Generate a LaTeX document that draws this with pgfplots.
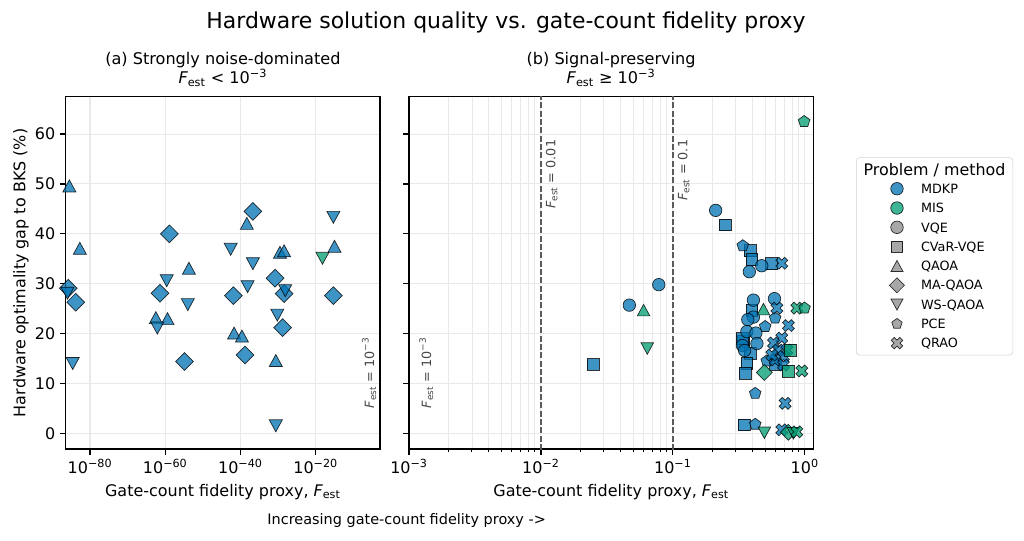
\documentclass[border=0pt]{standalone}
\usepackage{fontspec}
\setmainfont{DejaVu Sans}[ItalicFont={DejaVu Sans Oblique},BoldFont={DejaVu Sans Bold},BoldItalicFont={DejaVu Sans Bold Oblique}]
\usepackage{pgfplots}
\pgfplotsset{compat=1.18}
\usetikzlibrary{plotmarks}

\definecolor{cblue}{HTML}{0173B2}
\definecolor{cgreen}{HTML}{029E73}
\definecolor{cgray}{HTML}{8C8C8C}
\definecolor{gridc}{HTML}{E9E9E9}
\definecolor{dashc}{HTML}{5A5A5A}

\pgfdeclareplotmark{tup}{%
 \pgfpathmoveto{\pgfqpoint{0pt}{0.92\pgfplotmarksize}}%
 \pgfpathlineto{\pgfqpoint{\pgfplotmarksize}{-0.92\pgfplotmarksize}}%
 \pgfpathlineto{\pgfqpoint{-\pgfplotmarksize}{-0.92\pgfplotmarksize}}%
 \pgfpathclose\pgfusepathqfillstroke}
\pgfdeclareplotmark{tdn}{%
 \pgfpathmoveto{\pgfqpoint{0pt}{-0.92\pgfplotmarksize}}%
 \pgfpathlineto{\pgfqpoint{\pgfplotmarksize}{0.92\pgfplotmarksize}}%
 \pgfpathlineto{\pgfqpoint{-\pgfplotmarksize}{0.92\pgfplotmarksize}}%
 \pgfpathclose\pgfusepathqfillstroke}
\pgfdeclareplotmark{dia}{%
 \pgfpathmoveto{\pgfqpoint{0pt}{\pgfplotmarksize}}%
 \pgfpathlineto{\pgfqpoint{\pgfplotmarksize}{0pt}}%
 \pgfpathlineto{\pgfqpoint{0pt}{-\pgfplotmarksize}}%
 \pgfpathlineto{\pgfqpoint{-\pgfplotmarksize}{0pt}}%
 \pgfpathclose\pgfusepathqfillstroke}
\pgfdeclareplotmark{xf}{%
 \pgfpathmoveto{\pgfqpoint{0pt}{0.495\pgfplotmarksize}}%
 \pgfpathlineto{\pgfqpoint{0.460\pgfplotmarksize}{0.955\pgfplotmarksize}}%
 \pgfpathlineto{\pgfqpoint{0.955\pgfplotmarksize}{0.460\pgfplotmarksize}}%
 \pgfpathlineto{\pgfqpoint{0.495\pgfplotmarksize}{0pt}}%
 \pgfpathlineto{\pgfqpoint{0.955\pgfplotmarksize}{-0.460\pgfplotmarksize}}%
 \pgfpathlineto{\pgfqpoint{0.460\pgfplotmarksize}{-0.955\pgfplotmarksize}}%
 \pgfpathlineto{\pgfqpoint{0pt}{-0.495\pgfplotmarksize}}%
 \pgfpathlineto{\pgfqpoint{-0.460\pgfplotmarksize}{-0.955\pgfplotmarksize}}%
 \pgfpathlineto{\pgfqpoint{-0.955\pgfplotmarksize}{-0.460\pgfplotmarksize}}%
 \pgfpathlineto{\pgfqpoint{-0.495\pgfplotmarksize}{0pt}}%
 \pgfpathlineto{\pgfqpoint{-0.955\pgfplotmarksize}{0.460\pgfplotmarksize}}%
 \pgfpathlineto{\pgfqpoint{-0.460\pgfplotmarksize}{0.955\pgfplotmarksize}}%
 \pgfpathclose\pgfusepathqfillstroke}

\newcommand{\Fest}{{\itshape F}\textsubscript{est}}
\newcommand{\lbl}{\fontsize{11.5}{13}\selectfont}

\tikzset{
  lg/.style={draw=black, line width=0.5pt, fill opacity=0.76, draw opacity=0.8},
}

\pgfplotsset{
  panel/.style={
    scale only axis, height=253.7pt,
    ymin=-3.15, ymax=67.5,
    ytick={0,10,20,30,40,50,60},
    tick align=outside, xtick pos=bottom, ytick pos=left,
    major tick length=4pt, minor tick length=2.3pt,
    tick style={black, line width=0.9pt},
    minor tick style={black, line width=0.7pt},
    axis line style={black, line width=0.9pt},
    xmajorgrids, ymajorgrids,
    major grid style={draw=gridc, line width=0.8pt},
    minor grid style={draw=gridc, line width=0.6pt},
    tick label style={font=\lbl},
    label style={font=\lbl},
    /pgf/number format/assume math mode=true,
    xlabel style={at={(axis description cs:0.5,-0.121)}, anchor=center},
  },
  bl/.style={only marks, forget plot, mark options={lg, fill=cblue}},
  gr/.style={only marks, forget plot, mark options={lg, fill=cgreen}},
  vline/.style={forget plot, dashc, line width=1.0pt, dash pattern=on 4.2pt off 1.8pt},
}

\begin{document}
\begin{tikzpicture}
\useasboundingbox (0,0) rectangle (737.28pt,388.8pt);

% ---------------- left panel ----------------
\begin{axis}[xmode=log, panel,
  at={(47.3pt,65.5pt)}, anchor=south west, width=226.3pt,
  xmin=3.4e-87, xmax=1.25e-3,
  xtick={1e-80,1e-60,1e-40,1e-20},
  xticklabels={10\textsuperscript{−80},10\textsuperscript{−60},10\textsuperscript{−40},10\textsuperscript{−20}},
  minor xtick={},
  xlabel={Gate-count fidelity proxy, \Fest},
  ylabel={Hardware optimality gap to BKS (\%)},
  ylabel style={at={(axis description cs:-0.1423,0.5)}, anchor=center},
]
% MDKP QAOA
\addplot[bl, mark=tup, mark size=4.7pt] coordinates {
 (3.2e-86,49.6) (2.0e-83,37.1) (2.0e-54,33.1) (3.2e-63,23.2) (4.0e-60,23.0)
 (5.0e-39,42.1) (2.0e-42,20.1) (2.5e-40,19.5) (3.2e-30,36.3) (4.0e-29,36.6)
 (2.5e-31,14.6) (1.0e-15,37.5)};
% MDKP MA-QAOA
\addplot[bl, mark=dia, mark size=6.4pt] coordinates {
 (1.6e-86,29.1) (1.6e-84,26.3) (1.3e-59,40.0) (4.0e-62,28.1) (1.3e-55,14.4)
 (2.0e-37,44.5) (1.3e-42,27.6) (1.6e-39,15.7) (1.6e-31,31.1) (4.0e-29,28.0)
 (1.6e-29,21.2) (5.0e-16,27.6)};
% MDKP WS-QAOA
\addplot[bl, mark=tdn, mark size=4.7pt] coordinates {
 (1.0e-86,28.1) (2.5e-85,14.0) (2.5e-60,30.6) (1.0e-54,25.8) (7.9e-63,21.1)
 (2.5e-43,36.9) (2.0e-37,34.0) (7.9e-39,29.4) (7.9e-29,28.6) (6.3e-31,23.7)
 (2.5e-31,1.5) (5.0e-16,43.3)};
% MIS WS-QAOA
\addplot[gr, mark=tdn, mark size=4.7pt] coordinates {(6.3e-19,35.1)};
\node[rotate=90, anchor=south west, inner sep=0pt, text=black!72,
  font=\fontsize{9.2}{11}\selectfont] at (axis cs:1.41e-4,5.0) {\Fest\ = 10\textsuperscript{−3}};
\end{axis}

% ---------------- right panel ----------------
\begin{axis}[xmode=log, panel,
  at={(294.5pt,65.5pt)}, anchor=south west, width=291.1pt,
  xmin=1e-3, xmax=1.161,
  xtick={1e-3,1e-2,1e-1,1},
  xticklabels={10\textsuperscript{−3},10\textsuperscript{−2},10\textsuperscript{−1},10\textsuperscript{0}},
  minor xtick={0.002,0.003,0.004,0.005,0.006,0.007,0.008,0.009,0.02,0.03,0.04,0.05,0.06,0.07,0.08,0.09,0.2,0.3,0.4,0.5,0.6,0.7,0.8,0.9},
  xminorgrids,
  yticklabels={},
  xlabel={Gate-count fidelity proxy, \Fest},
  legend style={
    at={(axis description cs:1.1056,0.828)}, anchor=north west,
    draw=black!18, rounded corners=2.5pt, fill=white,
    inner xsep=5.3pt, inner ysep=1.6pt,
    font=\fontsize{9.2}{11}\selectfont,
    nodes={inner sep=0pt, text depth=0pt, minimum height=13.9pt},
    /tikz/column sep=0pt, /tikz/row sep=0pt,
  },
  legend cell align=left,
  legend image code/.code={\path[draw=none,fill=none] (-24pt,0pt) rectangle (17.3pt,0.1pt); \draw[#1] plot coordinates {(0pt,0pt)};},
]
\addplot[vline] coordinates {(0.01,-10) (0.01,80)};
\addplot[vline] coordinates {(0.1,-10) (0.1,80)};
% MDKP CVaR-VQE
\addplot[bl, mark=square*, mark size=4.3pt] coordinates {
 (0.0249,13.8) (0.249,41.8) (0.385,36.6) (0.397,34.8) (0.562,34.0) (0.397,24.7)
 (0.345,18.4) (0.335,19.0) (0.385,16.1) (0.364,14.0) (0.353,12.0) (0.349,1.7) (0.600,13.8)};
% MDKP VQE
\addplot[bl, mark=*, mark size=4.5pt] coordinates {
 (0.0468,25.7) (0.0782,29.8) (0.211,44.7) (0.472,33.6) (0.380,32.4) (0.408,26.7)
 (0.589,27.0) (0.408,23.3) (0.370,22.8) (0.364,20.4) (0.426,20.1) (0.337,17.6)
 (0.434,18.0) (0.350,16.6)};
% MDKP PCE
\addplot[bl, mark=pentagon*, mark size=4.4pt] coordinates {
 (0.339,37.6) (0.596,23.1) (0.501,21.4) (0.515,14.5) (0.421,8.0) (0.421,1.8)};
% MDKP QRAO
\addplot[bl, mark=xf, mark size=4.5pt] coordinates {
 (0.670,34.1) (0.614,25.1) (0.752,21.6) (0.670,19.1) (0.579,18.1) (0.631,16.7)
 (0.731,16.7) (0.689,15.4) (0.596,14.7) (0.689,13.7) (0.562,15.7) (0.709,6.0) (0.670,0.7)};
% MIS series
\addplot[gr, mark=square*, mark size=4.3pt] coordinates {(0.774,16.7) (0.745,12.5)};
\addplot[gr, mark=dia, mark size=5.7pt] coordinates {(0.494,12.2) (0.75,0.2)};
\addplot[gr, mark=tup, mark size=4.5pt] coordinates {(0.060,24.7) (0.486,24.9)};
\addplot[gr, mark=tdn, mark size=4.5pt] coordinates {(0.064,17.0) (0.494,0.1) (0.82,0.0)};
\addplot[gr, mark=xf, mark size=4.5pt] coordinates {(0.871,25.1) (0.950,12.5) (0.87,0.3)};
\addplot[gr, mark=pentagon*, mark size=4.4pt] coordinates {(0.989,62.5) (0.995,25.1)};

\node[rotate=90, anchor=north east, inner sep=0pt, text=black!72,
  font=\fontsize{9.2}{11}\selectfont] at (axis cs:0.01085,58.9) {\Fest\ = 0.01};
\node[rotate=90, anchor=north east, inner sep=0pt, text=black!72,
  font=\fontsize{9.2}{11}\selectfont] at (axis cs:0.1086,58.9) {\Fest\ = 0.1};
\node[rotate=90, anchor=north west, inner sep=0pt, text=black!72,
  font=\fontsize{9.2}{11}\selectfont] at (axis cs:1.19e-3,5.0) {\Fest\ = 10\textsuperscript{−3}};

% legend
\addlegendimage{empty legend}
\addlegendentry{\fontsize{11.45}{13}\selectfont\hspace*{-41.3pt}Problem / method}
\addlegendimage{mark=*, mark size=4.5pt, mark options={lg, fill=cblue}}
\addlegendentry{MDKP}
\addlegendimage{mark=*, mark size=4.5pt, mark options={lg, fill=cgreen}}
\addlegendentry{MIS}
\addlegendimage{mark=*, mark size=4.5pt, mark options={lg, fill=cgray}}
\addlegendentry{VQE}
\addlegendimage{mark=square*, mark size=4.0pt, mark options={lg, fill=cgray}}
\addlegendentry{CVaR-VQE}
\addlegendimage{mark=tup, mark size=4.3pt, mark options={lg, fill=cgray}}
\addlegendentry{QAOA}
\addlegendimage{mark=dia, mark size=5.4pt, mark options={lg, fill=cgray}}
\addlegendentry{MA-QAOA}
\addlegendimage{mark=tdn, mark size=4.3pt, mark options={lg, fill=cgray}}
\addlegendentry{WS-QAOA}
\addlegendimage{mark=pentagon*, mark size=3.9pt, mark options={lg, fill=cgray}}
\addlegendentry{PCE}
\addlegendimage{mark=xf, mark size=4.3pt, mark options={lg, fill=cgray}}
\addlegendentry{QRAO}
\end{axis}

% titles
\node[font=\fontsize{15.8}{19}\selectfont, anchor=base] at (364.3pt,368.6pt) {Hardware solution quality vs. gate-count fidelity proxy};
\node[font=\fontsize{11.6}{14}\selectfont, anchor=base] at (160.5pt,342.7pt) {(a) Strongly noise-dominated};
\node[font=\fontsize{11.6}{14}\selectfont, anchor=base] at (160.5pt,328.5pt) {\Fest\ < 10\textsuperscript{−3}};
\node[font=\fontsize{11.6}{14}\selectfont, anchor=base] at (440pt,342.7pt) {(b) Signal-preserving};
\node[font=\fontsize{11.6}{14}\selectfont, anchor=base] at (440pt,328.5pt) {\Fest\ ≥ 10\textsuperscript{−3}};
\node[font=\fontsize{10.4}{12}\selectfont, anchor=base] at (292.8pt,11.3pt) {Increasing gate-count fidelity proxy ->};
\end{tikzpicture}
\end{document}
